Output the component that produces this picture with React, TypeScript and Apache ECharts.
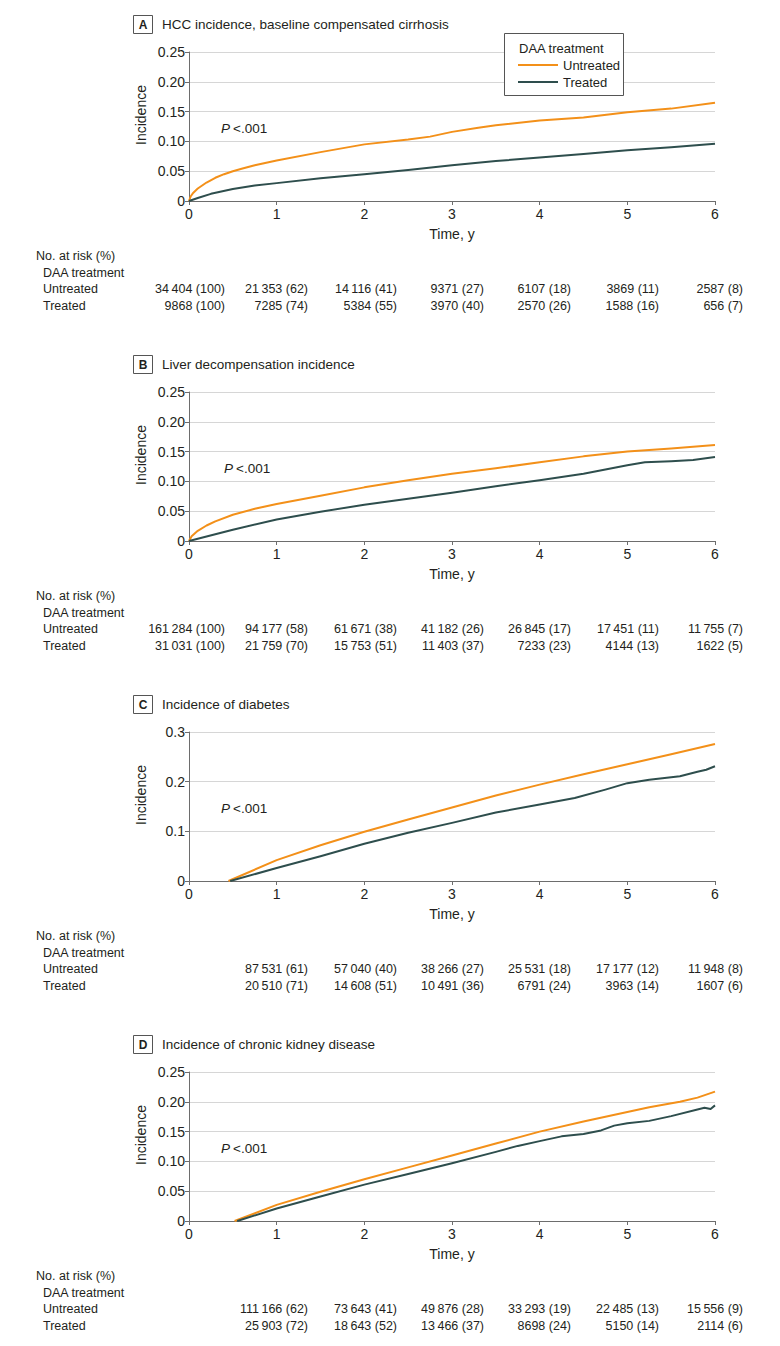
import React, { useEffect, useRef } from "react";
import * as echarts from "echarts";

// ---------- Data ----------
// Panel A: HCC incidence, baseline compensated cirrhosis
const aUntreatedT = [0, 0.02, 0.05, 0.1, 0.15, 0.2, 0.3, 0.4, 0.5, 0.6, 0.75, 1, 1.5, 2, 2.5, 2.75, 3, 3.3, 3.5, 4, 4.5, 5, 5.5, 6];
const aUntreatedV = [0, 0.008, 0.014, 0.021, 0.026, 0.031, 0.039, 0.045, 0.05, 0.054, 0.06, 0.068, 0.082, 0.095, 0.103, 0.108, 0.116, 0.123, 0.127, 0.135, 0.14, 0.149, 0.155, 0.165];
const aTreatedT = [0, 0.1, 0.25, 0.5, 0.75, 1, 1.5, 2, 2.5, 3, 3.5, 4, 4.5, 5, 5.5, 6];
const aTreatedV = [0, 0.005, 0.012, 0.02, 0.026, 0.03, 0.038, 0.045, 0.052, 0.06, 0.067, 0.073, 0.079, 0.085, 0.09, 0.096];

// Panel B: Liver decompensation incidence
const bUntreatedT = [0, 0.03, 0.1, 0.2, 0.3, 0.5, 0.75, 1, 1.5, 2, 2.5, 3, 3.5, 4, 4.5, 5, 5.5, 6];
const bUntreatedV = [0, 0.008, 0.017, 0.026, 0.033, 0.044, 0.054, 0.062, 0.076, 0.09, 0.102, 0.113, 0.122, 0.132, 0.142, 0.15, 0.155, 0.161];
const bTreatedT = [0, 0.5, 1, 1.5, 2, 2.5, 3, 3.5, 4, 4.5, 4.75, 5, 5.2, 5.5, 5.75, 6];
const bTreatedV = [0, 0.019, 0.036, 0.049, 0.061, 0.071, 0.081, 0.092, 0.102, 0.113, 0.12, 0.127, 0.132, 0.134, 0.136, 0.141];

// Panel C: Incidence of diabetes
const cUntreatedT = [0.45, 1, 1.5, 2, 2.5, 3, 3.5, 4, 4.5, 5, 5.5, 6];
const cUntreatedV = [0, 0.042, 0.072, 0.099, 0.124, 0.148, 0.172, 0.194, 0.215, 0.235, 0.255, 0.276];
const cTreatedT = [0.47, 1, 1.5, 2, 2.5, 3, 3.5, 4, 4.4, 4.75, 5, 5.25, 5.6, 5.8, 5.9, 6];
const cTreatedV = [0, 0.026, 0.05, 0.075, 0.097, 0.117, 0.138, 0.154, 0.167, 0.184, 0.197, 0.204, 0.211, 0.22, 0.224, 0.231];

// Panel D: Incidence of chronic kidney disease
const dUntreatedT = [0.52, 1, 1.5, 2, 2.5, 3, 3.5, 4, 4.5, 5, 5.25, 5.6, 5.8, 6];
const dUntreatedV = [0, 0.027, 0.049, 0.07, 0.09, 0.11, 0.13, 0.15, 0.167, 0.183, 0.191, 0.2, 0.207, 0.217];
const dTreatedT = [0.55, 1, 1.5, 2, 2.5, 3, 3.5, 3.75, 4, 4.25, 4.5, 4.7, 4.85, 5, 5.25, 5.5, 5.8, 5.88, 5.95, 6];
const dTreatedV = [0, 0.021, 0.041, 0.061, 0.079, 0.097, 0.116, 0.126, 0.134, 0.142, 0.146, 0.152, 0.16, 0.164, 0.168, 0.176, 0.187, 0.19, 0.188, 0.194];

// Number at risk tables
const aRiskUntreatedN = [34404, 21353, 14116, 9371, 6107, 3869, 2587];
const aRiskUntreatedPct = [100, 62, 41, 27, 18, 11, 8];
const aRiskTreatedN = [9868, 7285, 5384, 3970, 2570, 1588, 656];
const aRiskTreatedPct = [100, 74, 55, 40, 26, 16, 7];

const bRiskUntreatedN = [161284, 94177, 61671, 41182, 26845, 17451, 11755];
const bRiskUntreatedPct = [100, 58, 38, 26, 17, 11, 7];
const bRiskTreatedN = [31031, 21759, 15753, 11403, 7233, 4144, 1622];
const bRiskTreatedPct = [100, 70, 51, 37, 23, 13, 5];

const cRiskUntreatedN = [87531, 57040, 38266, 25531, 17177, 11948];
const cRiskUntreatedPct = [61, 40, 27, 18, 12, 8];
const cRiskTreatedN = [20510, 14608, 10491, 6791, 3963, 1607];
const cRiskTreatedPct = [71, 51, 36, 24, 14, 6];

const dRiskUntreatedN = [111166, 73643, 49876, 33293, 22485, 15556];
const dRiskUntreatedPct = [62, 41, 28, 19, 13, 9];
const dRiskTreatedN = [25903, 18643, 13466, 8698, 5150, 2114];
const dRiskTreatedPct = [72, 52, 37, 24, 14, 6];

const panelLetters = ["A", "B", "C", "D"];
const panelTitles = [
  "HCC incidence, baseline compensated cirrhosis",
  "Liver decompensation incidence",
  "Incidence of diabetes",
  "Incidence of chronic kidney disease",
];
const yMaxes = [0.25, 0.25, 0.3, 0.25];
const yIntervals = [0.05, 0.05, 0.1, 0.05];
const seriesNames = ["Untreated", "Treated"];

// ---------- Styling / layout ----------
const FONT = "'Liberation Sans', Arial, sans-serif";
const ORANGE = "#f39019";
const TEAL = "#2e4e4d";
const TEXT = "#231f20";
const AXIS = "#6d6d6d";
const GRIDLINE = "#d6d6d6";
const OFFSETS = [0, 340, 680, 1020];
const PLOT_LEFT = 189;
const PLOT_WIDTH = 526;
const PLOT_TOP = 52;
const PLOT_HEIGHT = 149;
const COL_RIGHT = [225, 308, 397, 484, 571, 659, 743];
const P_X = [221, 224, 221, 221];

function fmtN(n: number): string {
  const s = String(n);
  if (s.length < 5) return s;
  return s.slice(0, s.length - 3) + "\u2009" + s.slice(s.length - 3);
}

function pairs(t: number[], v: number[]) {
  return t.map((x, i) => [x, v[i]]);
}

function txt(text: string, x: number, y: number, opts: any = {}) {
  const align = opts.align || "left";
  const valign = opts.valign || "middle";
  return {
    type: "text",
    x,
    y,
    rotation: opts.rotation || 0,
    z: 100,
    style: {
      text,
      fill: opts.fill || TEXT,
      font: `${opts.style || "normal"} ${opts.weight || "normal"} ${opts.size || 13}px ${FONT}`,
      align,
      verticalAlign: valign,
      textAlign: align,
      textVerticalAlign: valign,
    },
  };
}

export default function App() {
  const ref = useRef<HTMLDivElement>(null);

  useEffect(() => {
    if (!ref.current) return;
    const chart = echarts.init(ref.current, undefined, { renderer: "svg" });

    const curves = [
      [pairs(aUntreatedT, aUntreatedV), pairs(aTreatedT, aTreatedV)],
      [pairs(bUntreatedT, bUntreatedV), pairs(bTreatedT, bTreatedV)],
      [pairs(cUntreatedT, cUntreatedV), pairs(cTreatedT, cTreatedV)],
      [pairs(dUntreatedT, dUntreatedV), pairs(dTreatedT, dTreatedV)],
    ];
    const risks = [
      [aRiskUntreatedN, aRiskUntreatedPct, aRiskTreatedN, aRiskTreatedPct],
      [bRiskUntreatedN, bRiskUntreatedPct, bRiskTreatedN, bRiskTreatedPct],
      [cRiskUntreatedN, cRiskUntreatedPct, cRiskTreatedN, cRiskTreatedPct],
      [dRiskUntreatedN, dRiskUntreatedPct, dRiskTreatedN, dRiskTreatedPct],
    ];

    const grid: any[] = [];
    const xAxis: any[] = [];
    const yAxis: any[] = [];
    const series: any[] = [];
    const graphic: any[] = [];

    OFFSETS.forEach((off, i) => {
      grid.push({ left: PLOT_LEFT, top: PLOT_TOP + off, width: PLOT_WIDTH, height: PLOT_HEIGHT });
      xAxis.push({
        gridIndex: i,
        type: "value",
        min: 0,
        max: 6,
        interval: 1,
        axisLine: { show: true, lineStyle: { color: AXIS, width: 1 } },
        axisTick: { show: true, length: 4, lineStyle: { color: AXIS } },
        axisLabel: { fontSize: 14, color: TEXT, fontFamily: FONT, margin: 6 },
        splitLine: { show: false },
      });
      const dec = yIntervals[i] < 0.1 ? 2 : 1;
      yAxis.push({
        gridIndex: i,
        type: "value",
        min: 0,
        max: yMaxes[i],
        interval: yIntervals[i],
        axisLine: { show: true, lineStyle: { color: AXIS, width: 1 } },
        axisTick: { show: true, length: 4, lineStyle: { color: AXIS } },
        axisLabel: {
          fontSize: 14,
          color: TEXT,
          fontFamily: FONT,
          margin: 4,
          formatter: (v: number) => (v === 0 ? "0" : v.toFixed(dec)),
        },
        splitLine: { show: true, lineStyle: { color: GRIDLINE, width: 1 } },
      });
      [ORANGE, TEAL].forEach((color, k) => {
        series.push({
          type: "line",
          name: seriesNames[k],
          xAxisIndex: i,
          yAxisIndex: i,
          data: curves[i][k],
          showSymbol: false,
          smooth: false,
          lineStyle: { color, width: 2, join: "round" },
          itemStyle: { color },
          z: k === 0 ? 3 : 4,
        });
      });

      // Panel label box and title
      graphic.push({
        type: "rect",
        z: 100,
        shape: { x: 133.5, y: 15.5 + off, width: 19, height: 18 },
        style: { fill: "#fff", stroke: "#555", lineWidth: 1 },
      });
      graphic.push(txt(panelLetters[i], 143, 24.5 + off, { align: "center", weight: "bold", size: 12 }));
      graphic.push(txt(panelTitles[i], 162, 24 + off, { size: 13.5 }));

      // Axis titles
      graphic.push(txt("Incidence", 141, 115 + off, { align: "center", rotation: Math.PI / 2, size: 14 }));
      graphic.push(txt("Time, y", 452, 234 + off, { align: "center", size: 14 }));

      // P value
      graphic.push(txt("P", P_X[i], 128 + off, { style: "italic", size: 13.5 }));
      graphic.push(txt("<.001", P_X[i] + 12, 128 + off, { size: 13.5 }));

      // Risk table
      graphic.push(txt("No. at risk (%)", 36, 256 + off, { size: 12.5 }));
      graphic.push(txt("DAA treatment", 43, 273 + off, { size: 12.5 }));
      graphic.push(txt("Untreated", 43, 289 + off, { size: 12.5 }));
      graphic.push(txt("Treated", 43, 306 + off, { size: 12.5 }));
      const [uN, uP, tN, tP] = risks[i];
      const start = COL_RIGHT.length - uN.length;
      uN.forEach((n, j) => {
        graphic.push(txt(`${fmtN(n)} (${uP[j]})`, COL_RIGHT[start + j], 289 + off, { align: "right", size: 12.5 }));
      });
      tN.forEach((n, j) => {
        graphic.push(txt(`${fmtN(n)} (${tP[j]})`, COL_RIGHT[start + j], 306 + off, { align: "right", size: 12.5 }));
      });
    });

    // Legend (panel A)
    graphic.push({
      type: "rect",
      z: 100,
      shape: { x: 504.5, y: 33.5, width: 119, height: 62 },
      style: { fill: "#fff", stroke: "#555", lineWidth: 1 },
    });
    graphic.push(txt("DAA treatment", 519, 48, { size: 13 }));
    [ORANGE, TEAL].forEach((color, k) => {
      const y = 65 + k * 17;
      graphic.push({
        type: "line",
        z: 101,
        shape: { x1: 518, y1: y, x2: 558, y2: y },
        style: { stroke: color, lineWidth: 2 },
      });
      graphic.push(txt(seriesNames[k], 563, y, { size: 13 }));
    });

    chart.setOption({
      animation: false,
      backgroundColor: "#fff",
      textStyle: { fontFamily: FONT },
      grid,
      xAxis,
      yAxis,
      series,
      graphic,
    });

    return () => chart.dispose();
  }, []);

  return (
    <div
      ref={ref}
      style={{ position: "absolute", left: 0, top: 0, width: 780, height: 1346, background: "#fff" }}
    />
  );
}
